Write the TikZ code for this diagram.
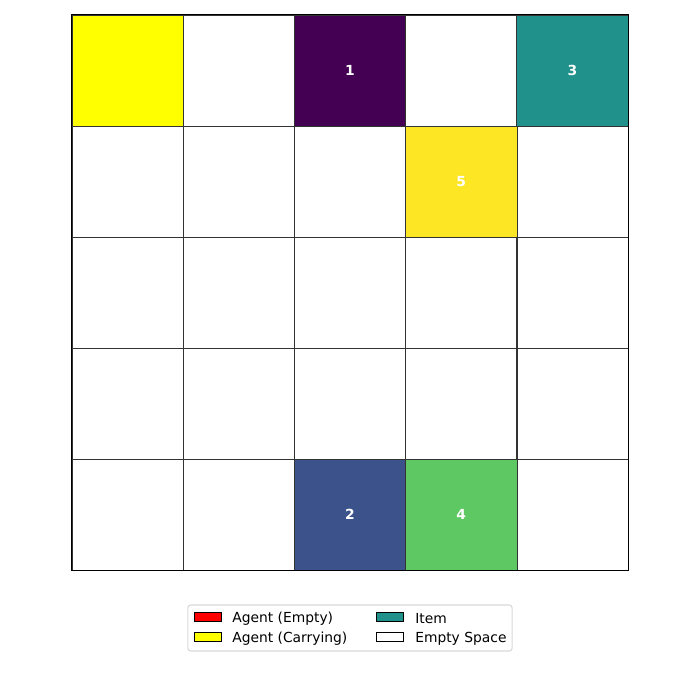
\documentclass[tikz,border=0pt]{standalone}
\usepackage{fontspec}
\setmainfont{DejaVu Sans}
\definecolor{vOne}{HTML}{440154}
\definecolor{vTwo}{HTML}{3B528B}
\definecolor{vThree}{HTML}{21918C}
\definecolor{vFour}{HTML}{5EC962}
\definecolor{vFive}{HTML}{FDE725}
\definecolor{agentC}{HTML}{FFFF00}
\tikzset{
  cell/.style={draw=black!80,line width=.45pt,minimum width=1.112in,minimum height=1.11in,inner sep=0pt,font=\bfseries\fontsize{10}{12}\selectfont,text=white},
  patch/.style={draw=black,line width=.6pt,minimum width=.27in,minimum height=.09in,inner sep=0pt},
  legtext/.style={anchor=west,inner sep=0pt,font=\fontsize{10}{12}\selectfont}
}
\begin{document}
\begin{tikzpicture}[x=.01in,y=-.01in]
\useasboundingbox (0,0) rectangle (700,700);
% empty grid
\foreach \r in {0,...,4}
  \foreach \c in {0,...,4}
    \node[cell] (c\r\c) at ({72+111.2*(\c+.5)},{15+111*(\r+.5)}) {};
% agent and items
\node[cell,fill=agentC] (agent) at (c00) {};
\node[cell,fill=vOne] (itemA) at (c02) {1};
\node[cell,fill=vThree] (itemC) at (c04) {3};
\node[cell,fill=vFive] (itemE) at (c13) {5};
\node[cell,fill=vTwo] (itemB) at (c42) {2};
\node[cell,fill=vFour] (itemD) at (c43) {4};
\draw[line width=.8pt] (c00.north west) rectangle (c44.south east);
% legend
\node[draw=black!15,line width=.8pt,rounded corners=2pt,minimum width=3.24in,minimum height=.46in,inner sep=0pt] (legend) at (350,628) {};
\node[patch,fill=red] (pEmpty) at (207.5,617) {};
\node[legtext] (tEmpty) at (232,618.5) {Agent (Empty)};
\node[patch,fill=agentC] (pCarry) at (207.5,637) {};
\node[legtext] (tCarry) at (232,638.5) {Agent (Carrying)};
\node[patch,fill=vThree] (pItem) at (390,617) {};
\node[legtext] (tItem) at (415,618.5) {Item};
\node[patch,fill=white] (pSpace) at (390,637) {};
\node[legtext] (tSpace) at (415,638.5) {Empty Space};
\end{tikzpicture}
\end{document}
